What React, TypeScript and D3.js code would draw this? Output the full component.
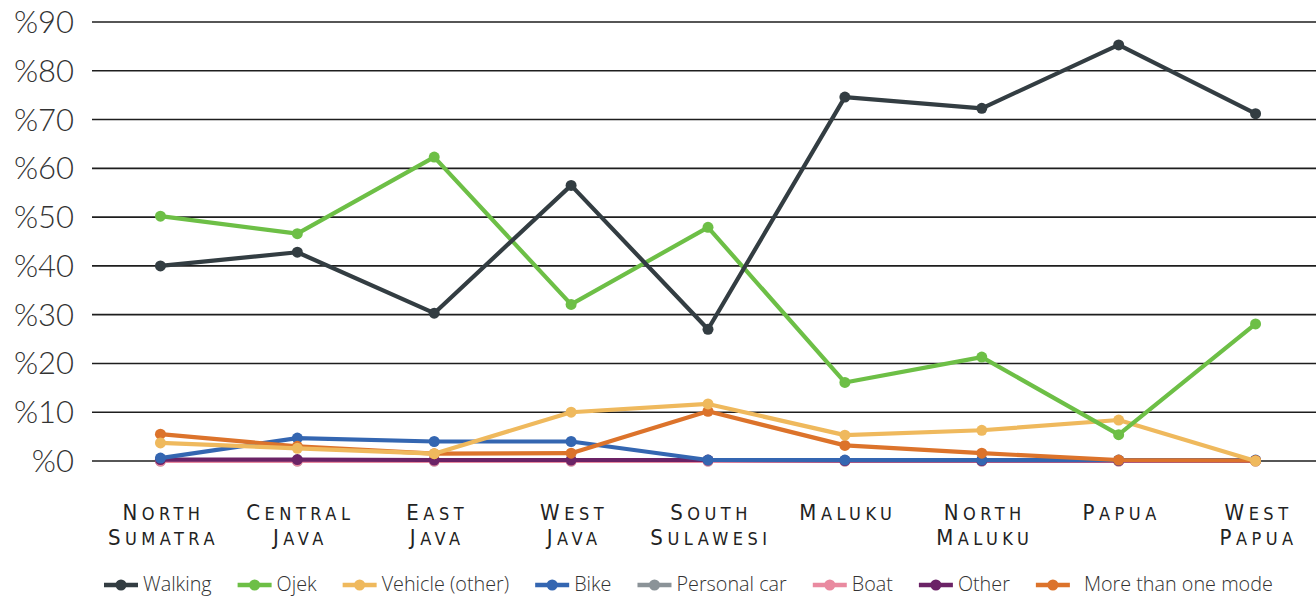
import React, { useEffect, useRef } from "react";
import * as d3 from "d3";

const categories = [
  ["North", "Sumatra"],
  ["Central", "Java"],
  ["East", "Java"],
  ["West", "Java"],
  ["South", "Sulawesi"],
  ["Maluku"],
  ["North", "Maluku"],
  ["Papua"],
  ["West", "Papua"],
];
const yTicks = [0, 10, 20, 30, 40, 50, 60, 70, 80, 90];

const walking = [40, 42.8, 30.3, 56.5, 27, 74.6, 72.3, 85.3, 71.2];
const ojek = [50.2, 46.6, 62.3, 32.1, 47.9, 16.1, 21.3, 5.4, 28.1];
const vehicleOther = [3.7, 2.6, 1.5, 10, 11.7, 5.3, 6.3, 8.4, 0];
const bike = [0.6, 4.7, 4.0, 4.0, 0.2, 0.2, 0.2, 0.2, 0.2];
const personalCar = [0, 0, 0, 0, 0, 0, 0, 0, 0];
const boat = [0, 0, 0, 0, 0, 0, 0, 0, 0];
const other = [0.3, 0.3, 0.2, 0.2, 0.2, 0.1, 0.1, 0.1, 0.1];
const moreThanOne = [5.5, 3.0, 1.5, 1.6, 10.2, 3.2, 1.6, 0.2, 0.1];

const seriesNames = ["Walking", "Ojek", "Vehicle (other)", "Bike", "Personal car", "Boat", "Other", "More than one mode"];
const seriesValues = [walking, ojek, vehicleOther, bike, personalCar, boat, other, moreThanOne];
const seriesColors = ["#333d42", "#6dbf46", "#efb95d", "#3466b1", "#8b9398", "#e98aa0", "#6b2366", "#dc732b"];
// drawing order (back to front)
const drawOrder = [4, 5, 6, 3, 7, 2, 1, 0];

export default function App() {
  const ref = useRef<SVGSVGElement>(null);
  useEffect(() => {
    const svg = d3.select(ref.current);
    svg.selectAll("*").remove();
    const W = 1316;
    const x = d3.scalePoint<number>().domain(d3.range(categories.length)).range([92, 1324]).padding(0.5);
    const y = d3.scaleLinear().domain([0, 90]).range([461, 22]);

    const g = svg.append("g");
    // grid
    g.selectAll("line.grid").data(yTicks).enter().append("line")
      .attr("x1", 92).attr("x2", W).attr("y1", (d) => y(d)).attr("y2", (d) => y(d))
      .attr("stroke", "#1e1e1e").attr("stroke-width", 1.6);
    g.selectAll("text.ytick").data(yTicks).enter().append("text")
      .attr("x", 74).attr("y", (d) => y(d) + 11)
      .attr("text-anchor", "end")
      .attr("font-family", "Lato, 'Open Sans', sans-serif").attr("font-weight", 300)
      .attr("font-size", 31).attr("fill", "#333")
      .text((d) => "%" + d);

    // x labels
    categories.forEach((lines, i) => {
      lines.forEach((word, j) => {
        const t = g.append("text")
          .attr("x", x(i)! + 3).attr("y", 520 + j * 25)
          .attr("text-anchor", "middle")
          .attr("font-family", "'DejaVu Sans Condensed', 'Liberation Sans Narrow', sans-serif")
          .attr("font-weight", 200)
          .attr("fill", "#222").attr("letter-spacing", 4.5);
        t.append("tspan").attr("font-size", 22).text(word[0].toUpperCase());
        t.append("tspan").attr("font-size", 18).text(word.slice(1).toUpperCase());
      });
    });

    const line = d3.line<number>().x((_, i) => x(i)!).y((d) => y(d));
    drawOrder.forEach((si) => {
      const vals = seriesValues[si];
      const c = seriesColors[si];
      g.append("path").attr("d", line(vals)!).attr("fill", "none")
        .attr("stroke", c).attr("stroke-width", 4.2).attr("stroke-linejoin", "round");
      g.selectAll(null).data(vals).enter().append("circle")
        .attr("cx", (_, i) => x(i)!).attr("cy", (d) => y(d)).attr("r", 5.5).attr("fill", c);
    });

    // legend
    let lx = 104;
    const ly = 585;
    seriesNames.forEach((name, i) => {
      const c = seriesColors[i];
      g.append("line").attr("x1", lx).attr("x2", lx + 34).attr("y1", ly).attr("y2", ly)
        .attr("stroke", c).attr("stroke-width", 4.5);
      g.append("circle").attr("cx", lx + 17).attr("cy", ly).attr("r", 5.5).attr("fill", c);
      const tx = lx + 39 + (i === 7 ? 9 : 0);
      const t = g.append("text").attr("x", tx).attr("y", ly + 6)
        .attr("font-family", "'Open Sans', Lato, sans-serif").attr("font-weight", 300)
        .attr("font-size", 19.8).attr("fill", "#333").text(name);
      const w = (t.node() as SVGTextElement).getComputedTextLength();
      lx = tx + w + 26;
    });
  }, []);
  return (
    <svg ref={ref} width={1316} height={596} style={{ position: "absolute", left: 0, top: 0, background: "#fff" }} />
  );
}
